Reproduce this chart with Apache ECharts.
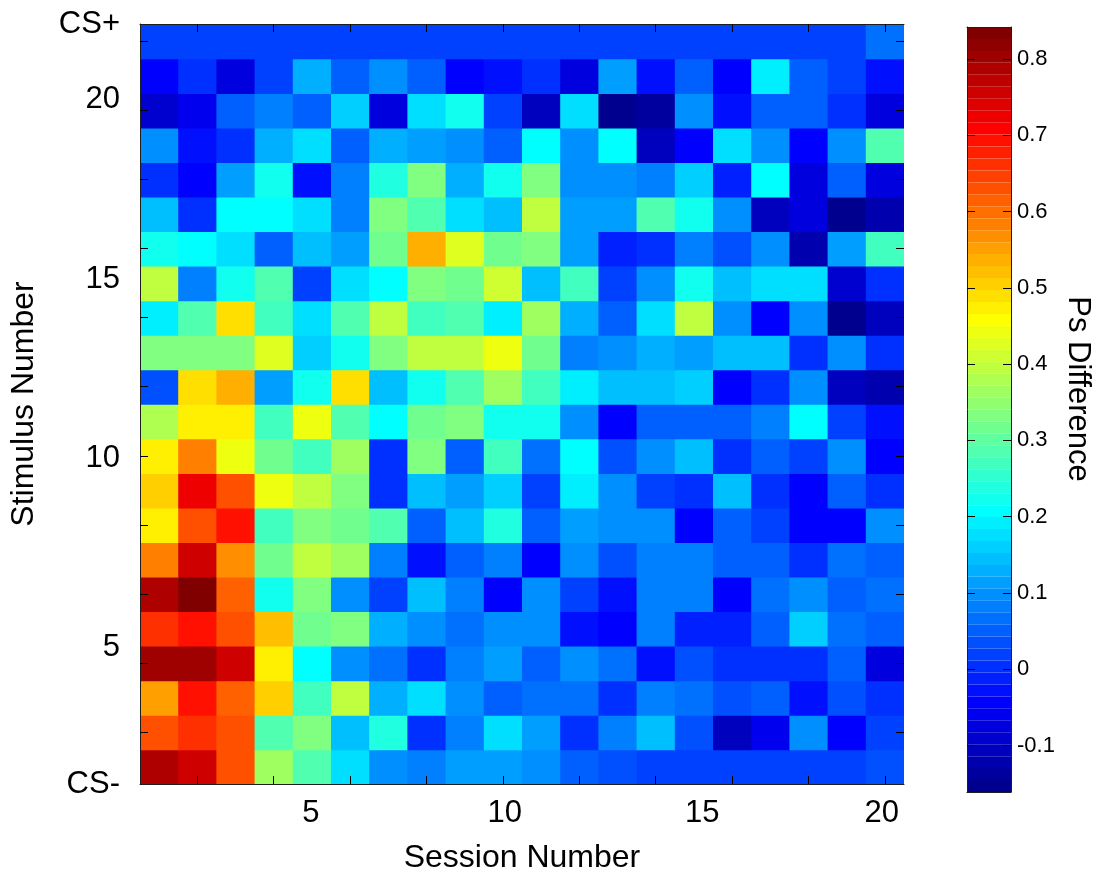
<!DOCTYPE html>
<html>
<head>
<meta charset="utf-8">
<script src="https://cdn.jsdelivr.net/npm/echarts@6/dist/echarts.min.js"></script>
<style>
  html, body { margin: 0; padding: 0; background: #ffffff; }
  #chart { width: 1099px; height: 879px; }
</style>
</head>
<body>
<div id="chart"></div>
<script>
// Sessions (columns) and stimuli (rows, bottom to top)
const sessions = ['1','2','3','4','5','6','7','8','9','10','11','12','13','14','15','16','17','18','19','20'];
const stimuli = ['CS-','1','2','3','4','5','6','7','8','9','10','11','12','13','14','15','16','17','18','19','20','CS+'];

// Ps difference per stimulus, sessions 1..20
const csMinus = [0.78, 0.762, 0.623, 0.37, 0.278, 0.17, 0.098, 0.075, 0.12, 0.12, 0.09, 0.058, 0.04, 0.018, 0.018, 0.018, 0.025, 0.018, 0.025, 0.035];
const stim01 = [0.623, 0.655, 0.637, 0.29, 0.325, 0.15, 0.24, 0.01, 0.075, 0.17, 0.12, -0.004, 0.078, 0.145, 0.035, -0.1, -0.06, 0.09, -0.036, 0.025];
const stim02 = [0.545, 0.686, 0.607, 0.5, 0.263, 0.40, 0.13, 0.17, 0.105, 0.05, 0.07, 0.07, 0.004, 0.075, 0.07, 0.035, 0.044, -0.02, 0.035, 0.01];
const stim03 = [0.795, 0.80, 0.762, 0.48, 0.2, 0.098, 0.07, 0.01, 0.075, 0.12, 0.05, 0.105, 0.064, -0.02, 0.035, 0.004, 0.004, 0.004, 0.044, -0.08];
const stim04 = [0.655, 0.686, 0.637, 0.516, 0.31, 0.325, 0.13, 0.09, 0.07, 0.09, 0.09, -0.02, -0.036, 0.075, -0.01, -0.01, 0.058, 0.165, 0.07, 0.058];
const stim05 = [0.78, 0.842, 0.607, 0.23, 0.325, 0.098, 0.025, 0.15, 0.075, -0.036, 0.098, 0.025, -0.03, 0.075, 0.08, -0.036, 0.07, 0.098, 0.05, 0.07];
const stim06 = [0.591, 0.75, 0.56, 0.32, 0.388, 0.37, 0.075, -0.02, 0.058, 0.08, -0.036, 0.105, 0.035, 0.075, 0.075, 0.044, 0.058, 0.01, 0.07, 0.05];
const stim07 = [0.466, 0.637, 0.70, 0.263, 0.325, 0.32, 0.278, 0.058, 0.15, 0.24, 0.058, 0.12, 0.105, 0.09, -0.036, 0.044, 0.025, -0.036, -0.036, 0.09];
const stim08 = [0.51, 0.717, 0.623, 0.45, 0.388, 0.325, 0.01, 0.137, 0.11, 0.16, 0.025, 0.185, 0.09, 0.025, 0.004, 0.15, 0.01, -0.036, 0.044, 0.01];
const stim09 = [0.466, 0.591, 0.436, 0.31, 0.263, 0.37, -0.004, 0.325, 0.044, 0.263, 0.07, 0.215, 0.04, 0.098, 0.15, 0.01, 0.058, 0.025, 0.09, -0.036];
const stim10 = [0.38, 0.466, 0.466, 0.263, 0.45, 0.278, 0.2, 0.31, 0.325, 0.23, 0.23, 0.105, -0.036, 0.044, 0.05, 0.05, 0.08, 0.215, 0.025, -0.02];
const stim11 = [0.035, 0.496, 0.529, 0.12, 0.23, 0.496, 0.15, 0.23, 0.278, 0.37, 0.263, 0.185, 0.145, 0.15, 0.165, -0.036, 0.01, 0.105, -0.1, -0.12];
const stim12 = [0.34, 0.33, 0.33, 0.42, 0.16, 0.23, 0.34, 0.388, 0.388, 0.45, 0.32, 0.075, 0.09, 0.13, 0.12, 0.137, 0.15, 0.01, 0.09, 0.01];
const stim13 = [0.185, 0.29, 0.496, 0.263, 0.17, 0.29, 0.40, 0.263, 0.29, 0.185, 0.365, 0.13, 0.044, 0.175, 0.40, 0.09, -0.036, 0.09, -0.16, -0.1];
const stim14 = [0.388, 0.075, 0.23, 0.29, 0.025, 0.17, 0.2, 0.325, 0.31, 0.41, 0.15, 0.263, 0.018, 0.09, 0.23, 0.137, 0.17, 0.17, -0.09, 0.01];
const stim15 = [0.23, 0.2, 0.17, 0.044, 0.15, 0.12, 0.31, 0.529, 0.42, 0.31, 0.34, 0.12, -0.015, 0.01, 0.075, 0.035, 0.09, -0.12, 0.12, 0.263];
const stim16 = [0.15, 0.01, 0.215, 0.215, 0.17, 0.075, 0.33, 0.29, 0.17, 0.145, 0.40, 0.12, 0.12, 0.29, 0.23, 0.105, -0.1, -0.08, -0.15, -0.12];
const stim17 = [-0.004, -0.05, 0.11, 0.23, -0.025, 0.075, 0.24, 0.34, 0.13, 0.23, 0.34, 0.09, 0.09, 0.075, 0.165, -0.01, 0.215, -0.08, 0.058, -0.08];
const stim18 = [0.09, -0.02, -0.004, 0.13, 0.17, 0.044, 0.13, 0.11, 0.09, 0.058, 0.2, 0.09, 0.215, -0.1, -0.036, 0.17, 0.09, -0.05, 0.105, 0.293];
const stim19 = [-0.09, -0.055, 0.058, 0.082, 0.044, 0.165, -0.07, 0.17, 0.23, 0.025, -0.103, 0.17, -0.15, -0.13, 0.098, -0.02, 0.058, 0.058, -0.004, -0.08];
const stim20 = [-0.036, 0.01, -0.07, 0.025, 0.13, 0.044, 0.09, 0.058, -0.036, -0.02, -0.004, -0.08, 0.11, -0.02, 0.058, -0.036, 0.185, 0.044, 0.025, -0.02];
const csPlus = [0.012, 0.012, 0.012, 0.012, 0.012, 0.012, 0.012, 0.012, 0.012, 0.012, 0.012, 0.012, 0.012, 0.012, 0.012, 0.012, 0.012, 0.012, 0.012, 0.07];

// Tick labels placed along the axes (axis units)
const xLabelPos = [4.97, 10.05, 15.22, 19.92];
const xLabelText = ['5', '10', '15', '20'];
const yLabelPos = [0, 3.96, 9.42, 14.6, 19.82, 22];
const yLabelText = ['CS-', '5', '10', '15', '20', 'CS+'];

// Colour scale range and its tick values
const colorMin = -0.161;
const colorMax = 0.842;
const colorTicks = [-0.1, 0, 0.1, 0.2, 0.3, 0.4, 0.5, 0.6, 0.7, 0.8];

const rows = [csMinus, stim01, stim02, stim03, stim04, stim05, stim06, stim07, stim08, stim09, stim10,
  stim11, stim12, stim13, stim14, stim15, stim16, stim17, stim18, stim19, stim20, csPlus];

const cells = [];
rows.forEach((row, yi) => row.forEach((v, xi) => cells.push([xi, yi, v])));

// 64-level jet colour map
function jetColors(m) {
  const n = Math.ceil(m / 4);
  const u = [];
  for (let i = 1; i <= n; i++) u.push(i / n);
  for (let i = 1; i < n; i++) u.push(1);
  for (let i = n; i >= 1; i--) u.push(i / n);
  const g0 = Math.ceil(n / 2) - (m % 4 === 1 ? 1 : 0);
  const R = new Array(m).fill(0), G = new Array(m).fill(0), B = new Array(m).fill(0);
  u.forEach((val, k) => {
    const g = g0 + k + 1, r = g + n, b = g - n;
    if (r >= 1 && r <= m) R[r - 1] = val;
    if (g >= 1 && g <= m) G[g - 1] = val;
    if (b >= 1 && b <= m) B[b - 1] = val;
  });
  const hex = (x) => Math.round(x * 255).toString(16).padStart(2, '0');
  return R.map((_, i) => '#' + hex(R[i]) + hex(G[i]) + hex(B[i]));
}
const jet = jetColors(64);
const step = (colorMax - colorMin) / jet.length;
const pieces = jet.map((c, i) => ({
  min: i === 0 ? colorMin - 1 : colorMin + i * step,
  max: i === jet.length - 1 ? colorMax + 1 : colorMin + (i + 1) * step,
  color: c
}));

const FONT = '"Liberation Sans", Arial, Helvetica, sans-serif';
const INK = '#000000';
const FRAME = '#1e1e1e';

const PLOT = { left: 137, top: 24, width: 767, height: 765 };
const BAR = { left: 967, top: 27, width: 44, height: 765 };

const innerTicks = (interval) => ({
  show: true, inside: true, length: 8, alignWithLabel: true, interval: interval,
  lineStyle: { color: INK, width: 1 }
});
const everyOther = (i) => i % 2 === 1;

// Image cells: each rect overlaps its right / lower neighbour by a fraction
// of a pixel so that no hairline seams show between adjacent cells.
function renderCell(params, api) {
  const xi = api.value(0);
  const yi = api.value(1);
  const center = api.coord([xi, yi]);
  const size = api.size([1, 1]);
  const padX = xi < sessions.length - 1 ? 0.8 : 0;
  const padY = yi > 0 ? 0.8 : 0;
  return {
    type: 'rect',
    shape: {
      x: center[0] - size[0] / 2,
      y: center[1] - size[1] / 2,
      width: size[0] + padX,
      height: size[1] + padY
    },
    style: { fill: api.visual('color'), stroke: null }
  };
}

const chart = echarts.init(document.getElementById('chart'), null, { renderer: 'canvas' });
chart.setOption({
  animation: false,
  backgroundColor: '#ffffff',
  textStyle: { fontFamily: FONT },
  grid: [
    Object.assign({ containLabel: false }, PLOT),
    Object.assign({ containLabel: false }, BAR)
  ],
  xAxis: [
    { type: 'category', gridIndex: 0, data: sessions, position: 'bottom', z: 6,
      axisLine: { show: true, lineStyle: { color: FRAME, width: 1 } },
      axisTick: innerTicks(everyOther), axisLabel: { show: false }, splitLine: { show: false } },
    { type: 'category', gridIndex: 0, data: sessions, position: 'top', z: 6,
      axisLine: { show: true, lineStyle: { color: FRAME, width: 1 } },
      axisTick: innerTicks(everyOther), axisLabel: { show: false }, splitLine: { show: false } },
    { type: 'value', gridIndex: 0, position: 'bottom', min: 0.5, max: 20.5, z: 6,
      axisLine: { show: false }, axisTick: { show: false }, splitLine: { show: false },
      axisLabel: {
        customValues: xLabelPos, showMinLabel: true, showMaxLabel: true,
        formatter: (v) => xLabelText[xLabelPos.findIndex((p) => Math.abs(p - v) < 1e-6)],
        color: INK, fontSize: 31, fontFamily: FONT, margin: 14
      },
      name: 'Session Number', nameLocation: 'middle', nameGap: 58,
      nameTextStyle: { color: INK, fontSize: 32, fontFamily: FONT } },
    { type: 'value', gridIndex: 1, position: 'bottom', min: 0, max: 1, z: 6,
      axisLine: { show: true, onZero: false, lineStyle: { color: FRAME, width: 1 } },
      axisTick: { show: false }, axisLabel: { show: false }, splitLine: { show: false } },
    { type: 'value', gridIndex: 1, position: 'top', min: 0, max: 1, z: 6,
      axisLine: { show: true, onZero: false, lineStyle: { color: FRAME, width: 1 } },
      axisTick: { show: false }, axisLabel: { show: false }, splitLine: { show: false } }
  ],
  yAxis: [
    { type: 'category', gridIndex: 0, data: stimuli, position: 'left', z: 6,
      axisLine: { show: true, lineStyle: { color: FRAME, width: 1 } },
      axisTick: innerTicks(everyOther), axisLabel: { show: false }, splitLine: { show: false } },
    { type: 'category', gridIndex: 0, data: stimuli, position: 'right', z: 6,
      axisLine: { show: false },
      axisTick: innerTicks(everyOther), axisLabel: { show: false }, splitLine: { show: false } },
    { type: 'value', gridIndex: 0, position: 'left', min: 0, max: 22, z: 6,
      axisLine: { show: false }, axisTick: { show: false }, splitLine: { show: false },
      axisLabel: {
        customValues: yLabelPos, showMinLabel: true, showMaxLabel: true,
        formatter: (v) => yLabelText[yLabelPos.findIndex((p) => Math.abs(p - v) < 1e-6)],
        color: INK, fontSize: 31, fontFamily: FONT, margin: 20
      },
      name: 'Stimulus Number', nameLocation: 'middle', nameGap: 100, nameRotate: 90,
      nameTextStyle: { color: INK, fontSize: 32, fontFamily: FONT } },
    { type: 'value', gridIndex: 1, position: 'right', min: colorMin, max: colorMax, z: 6,
      axisLine: { show: true, onZero: false, lineStyle: { color: FRAME, width: 1 } },
      axisTick: { show: true, inside: true, length: 8, customValues: colorTicks, lineStyle: { color: INK } },
      splitLine: { show: false },
      axisLabel: {
        customValues: colorTicks, showMinLabel: true, showMaxLabel: true,
        formatter: (v) => String(v),
        color: INK, fontSize: 22, fontFamily: FONT, margin: 6
      } },
    { type: 'value', gridIndex: 1, position: 'left', min: colorMin, max: colorMax, z: 6,
      axisLine: { show: true, onZero: false, lineStyle: { color: FRAME, width: 1 } },
      axisTick: { show: true, inside: true, length: 8, customValues: colorTicks, lineStyle: { color: INK } },
      axisLabel: { show: false }, splitLine: { show: false } }
  ],
  visualMap: {
    type: 'piecewise', seriesIndex: 0, dimension: 2, pieces: pieces,
    orient: 'vertical', left: BAR.left, top: BAR.top, padding: 0,
    itemWidth: BAR.width, itemHeight: BAR.height / jet.length, itemGap: 0,
    itemSymbol: 'rect', showLabel: false, text: null,
    hoverLink: false, selectedMode: false, z: 4
  },
  graphic: [{
    type: 'text', x: 1078, y: 389, rotation: -Math.PI / 2,
    style: { text: 'Ps Difference', fill: INK, fontSize: 31, fontFamily: FONT, align: 'center', verticalAlign: 'middle' }
  }],
  series: [{
    type: 'custom', xAxisIndex: 0, yAxisIndex: 0, data: cells,
    encode: { x: 0, y: 1 }, renderItem: renderCell, z: 2
  }]
});
</script>
</body>
</html>
